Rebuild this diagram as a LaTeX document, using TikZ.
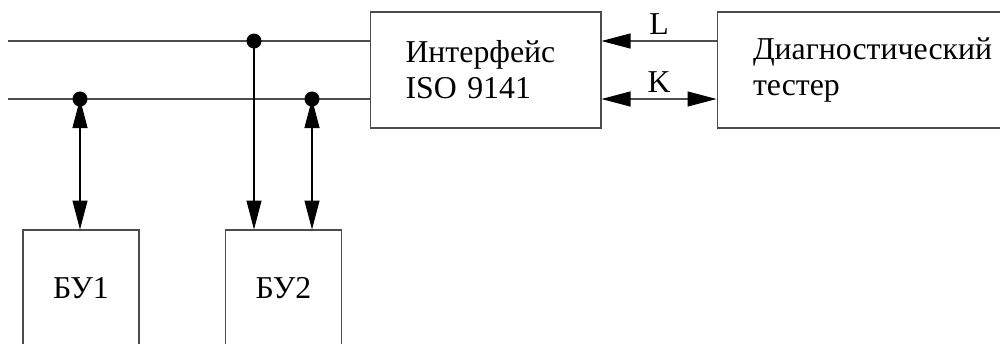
\documentclass[tikz,border=0pt]{standalone}
\usepackage{fontspec}
\setmainfont{Liberation Serif}
\usepackage{tikz}
\usetikzlibrary{positioning, arrows.meta}

\begin{document}
\begin{tikzpicture}[x=0.02cm, y=-0.02cm, font=\fontsize{18.1}{20.5}\selectfont,
            wire/.style={draw=black!70, line width=0.6pt},
            box/.style={rectangle, draw=black!70, line width=0.6pt, minimum height=2.32cm, inner sep=0pt},
            dot/.style={circle, fill=black, inner sep=0pt, minimum size=0.3cm},
            tip/.style={-{Triangle[length=0.58cm, width=0.3cm, black]}},
            tips/.style={{Triangle[length=0.58cm, width=0.3cm, black]}-{Triangle[length=0.58cm, width=0.3cm, black]}}]
            \path[use as bounding box, clip] (0, 0) rectangle (1000, 343);

            \node[box, text width=3.2cm, inner xsep=0.71cm, align=left] (iface) at (485.5, 70) {Интерфейс\\ISO 9141};
            \node[box, text width=5.02cm, inner xsep=0.72cm, align=left] (tester) at (878.5, 70) {Диагностический\\тестер};
            \node[box, minimum width=2.32cm] (bu1) at (81, 288) {БУ1};
            \node[box, minimum width=2.32cm] (bu2) at (283.5, 288) {БУ2};

            \coordinate (l0) at (8, 41);
            \coordinate (k0) at (8, 99);
            \coordinate (j1) at (254, 41);
            \coordinate (j2) at (80, 99);
            \coordinate (j3) at (312, 99);

            \draw[wire] (l0) -- (l0 -| iface.west);
            \draw[wire] (k0) -- (k0 -| iface.west);
            \draw[wire, tip] (tester.west |- l0) -- node[above] (lab_l) {L} (iface.east |- l0);
            \draw[wire, tips] (iface.east |- k0) -- node[above] (lab_k) {K} (tester.west |- k0);
            \draw[wire, draw=black, tips] (j2) -- (j2 |- bu1.north);
            \draw[wire, draw=black, tip] (j1) -- (j1 |- bu2.north);
            \draw[wire, draw=black, tips] (j3) -- (j3 |- bu2.north);

            \node[dot] (d1) at (j1) {};
            \node[dot] (d2) at (j2) {};
            \node[dot] (d3) at (j3) {};
        \end{tikzpicture}
\end{document}
